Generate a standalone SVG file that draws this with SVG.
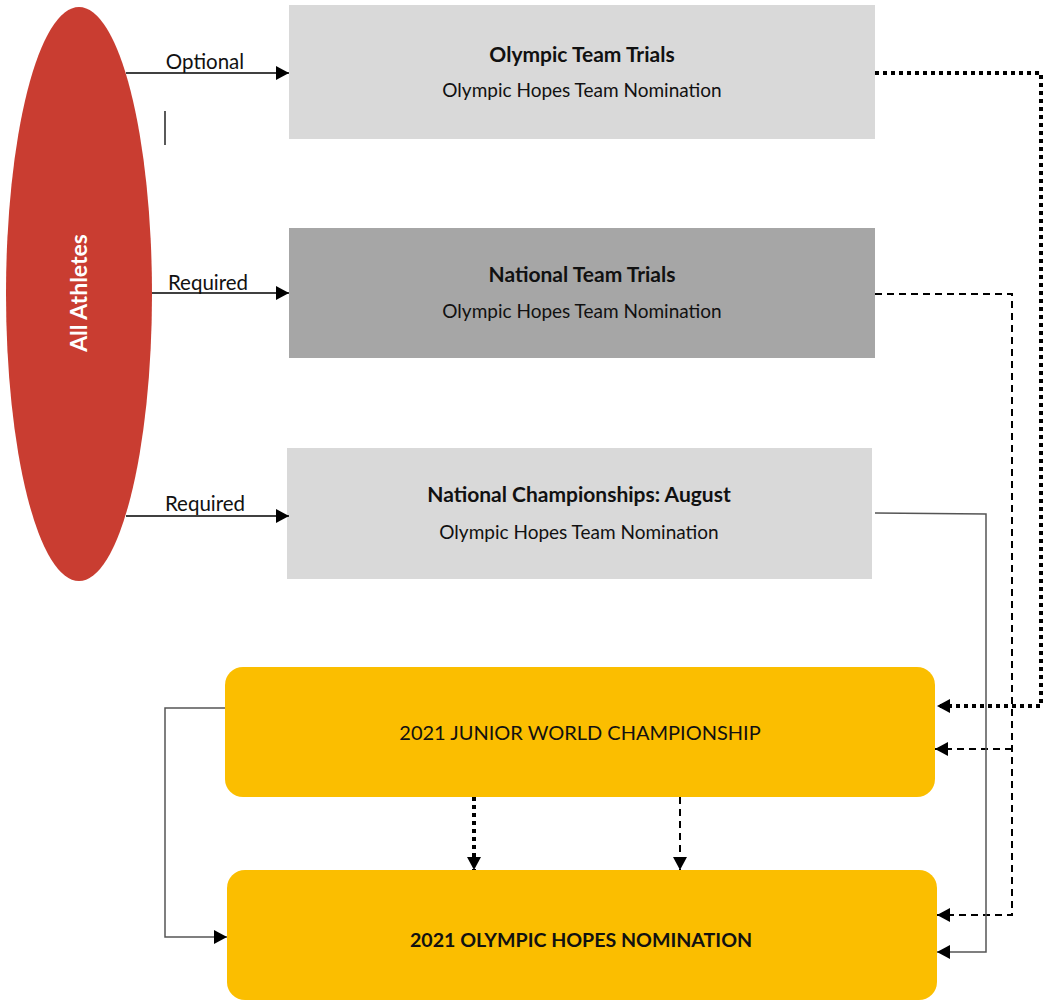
<svg xmlns="http://www.w3.org/2000/svg" width="1046" height="1003" viewBox="0 0 1046 1003">
<style>
text{font-family:Lato,"Liberation Sans",sans-serif;fill:#111;}
.t{font-size:21px;font-weight:bold;text-anchor:middle;}
.s{font-size:19px;text-anchor:middle;}
.lbl{font-size:20.5px;text-anchor:middle;}
.solid{fill:none;stroke:#000;stroke-width:1.3;}
.gray{fill:none;stroke:#555;stroke-width:1.5;}
.dot{fill:none;stroke:#000;stroke-width:4;stroke-dasharray:4 4;}
.dash{fill:none;stroke:#000;stroke-width:2;stroke-dasharray:7 5;}
</style>
<defs>
<marker id="ah" markerUnits="userSpaceOnUse" markerWidth="14" markerHeight="14" refX="13" refY="7" orient="auto">
<path d="M0,0 L13,7 L0,14 Z" fill="#000"/>
</marker>
</defs>
<rect width="1046" height="1003" fill="#fff"/>
<g id="all-athletes">
<ellipse cx="79" cy="294" rx="73" ry="287" fill="#c93d31"/>
<text transform="translate(87,293) rotate(-90)" class="t" style="fill:#fff;font-size:23px">All Athletes</text>
</g>
<g id="olympic-team-trials">
<rect x="289" y="5" width="586" height="134" fill="#d9d9d9"/>
<text x="582" y="62" class="t">Olympic Team Trials</text>
<text x="582" y="97" class="s">Olympic Hopes Team Nomination</text>
</g>
<g id="national-team-trials">
<rect x="289" y="228" width="586" height="130" fill="#a6a6a6"/>
<text x="582" y="282" class="t">National Team Trials</text>
<text x="582" y="318" class="s">Olympic Hopes Team Nomination</text>
</g>
<g id="national-championships">
<rect x="287" y="448" width="585" height="131" fill="#d9d9d9"/>
<text x="579" y="502" class="t">National Championships: August</text>
<text x="579" y="539" class="s">Olympic Hopes Team Nomination</text>
</g>
<g id="junior-world">
<rect x="225" y="667" width="710" height="130" rx="18" fill="#fbbe00"/>
<text x="580" y="740" class="s" style="font-size:20px">2021 JUNIOR WORLD CHAMPIONSHIP</text>
</g>
<g id="olympic-hopes">
<rect x="227" y="870" width="710" height="130" rx="18" fill="#fbbe00"/>
<text x="581" y="947" class="t" style="font-size:19.6px">2021 OLYMPIC HOPES NOMINATION</text>
</g>
<g id="connectors">
<line x1="126" y1="73" x2="289" y2="73" class="solid" marker-end="url(#ah)"/>
<text x="205" y="69" class="lbl">Optional</text>
<line x1="165" y1="111" x2="165" y2="145" class="solid"/>
<line x1="152" y1="293" x2="289" y2="293" class="solid" marker-end="url(#ah)"/>
<text x="208" y="290" class="lbl">Required</text>
<line x1="126" y1="516" x2="289" y2="516" class="solid" marker-end="url(#ah)"/>
<text x="205" y="511" class="lbl">Required</text>
<polyline points="875,73 1041,73 1041,706 937,706" class="dot" marker-end="url(#ah)"/>
<polyline points="875,294 1012,294 1012,915 937,915" class="dash" marker-end="url(#ah)"/>
<polyline points="1012,749 935,749" class="dash" marker-end="url(#ah)"/>
<polyline points="875,513 986,514 986,952 937,952" class="gray" marker-end="url(#ah)"/>
<polyline points="225,708 165,708 165,937 227,937" class="gray" marker-end="url(#ah)"/>
<line x1="474" y1="797" x2="474" y2="870" class="dot" marker-end="url(#ah)"/>
<line x1="680" y1="797" x2="680" y2="870" class="dash" marker-end="url(#ah)"/>
</g>
</svg>
